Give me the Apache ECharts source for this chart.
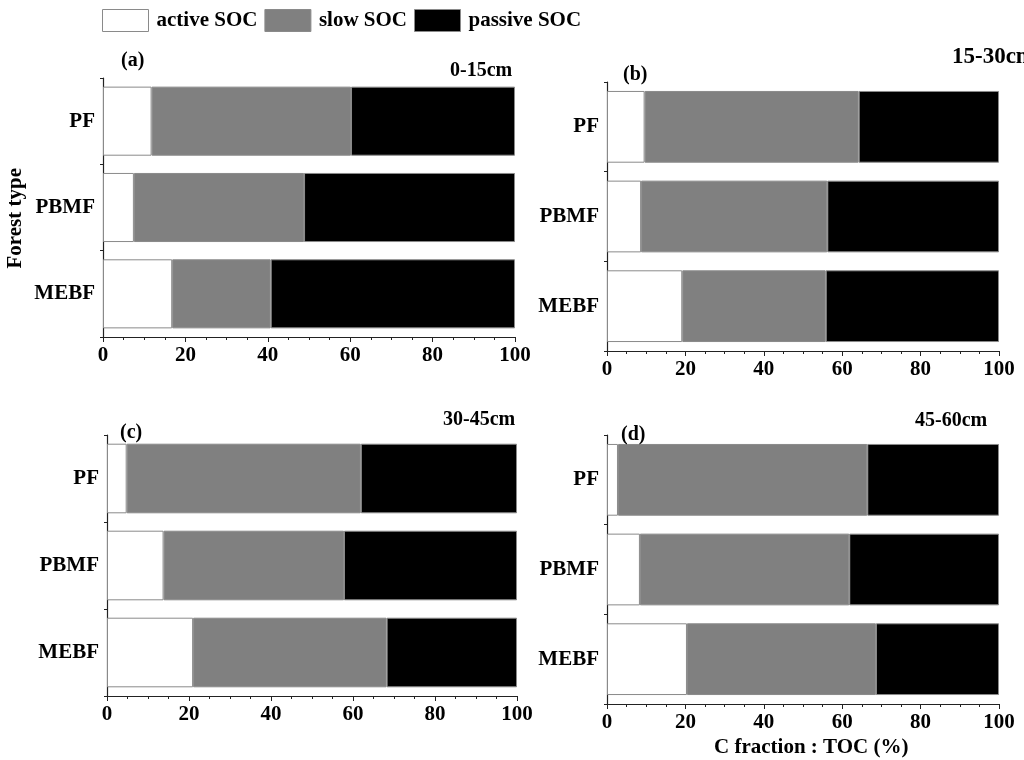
<!DOCTYPE html>
<html>
<head>
<meta charset="utf-8">
<script src="https://cdn.jsdelivr.net/npm/echarts@6/dist/echarts.min.js"></script>
<style>html,body{margin:0;padding:0;background:#fff}#c{width:1024px;height:760px}</style>
</head>
<body>
<div id="c"></div>
<script>
const categories = ['PF', 'PBMF', 'MEBF'];
const seriesNames = ['active SOC', 'slow SOC', 'passive SOC'];
const panelLabels = ['(a)', '(b)', '(c)', '(d)'];
const depthLabels = ['0-15cm', '15-30cm', '30-45cm', '45-60cm'];
const xTicks = [0, 20, 40, 60, 80, 100];
// per panel values [PF, PBMF, MEBF]
const activeA = [11.8, 7.5, 16.8];
const slowA = [48.4, 41.3, 23.9];
const passiveA = [39.8, 51.2, 59.3];
const activeB = [9.6, 8.7, 19.2];
const slowB = [54.6, 47.5, 36.6];
const passiveB = [35.8, 43.8, 44.2];
const activeC = [4.8, 13.8, 21.0];
const slowC = [57.1, 44.0, 47.2];
const passiveC = [38.1, 42.2, 31.8];
const activeD = [2.8, 8.4, 20.4];
const slowD = [63.6, 53.4, 48.2];
const passiveD = [33.6, 38.2, 31.4];

const panels = [[activeA, slowA, passiveA], [activeB, slowB, passiveB], [activeC, slowC, passiveC], [activeD, slowD, passiveD]];
const colors = ['#ffffff', '#808080', '#000000'];
const FONT = 'Liberation Serif';

const grids = [
  {left: 103, top: 78, width: 412, height: 259},
  {left: 607, top: 82, width: 392, height: 269},
  {left: 107, top: 435, width: 410, height: 261},
  {left: 607, top: 435, width: 392, height: 269}
];

const xAxes = grids.map((g, i) => ({
  type: 'value', gridIndex: i, min: xTicks[0], max: xTicks[xTicks.length - 1], interval: xTicks[1] - xTicks[0],
  axisLine: {show: true, lineStyle: {color: '#222', width: 1.2}},
  axisTick: {show: true, length: 5, lineStyle: {color: '#222'}},
  minorTick: {show: true, splitNumber: 4, length: 3, lineStyle: {color: '#222'}},
  splitLine: {show: false},
  axisLabel: {color: '#000', fontFamily: FONT, fontWeight: 'bold', fontSize: 21, margin: 8}
}));

const yAxes = grids.map((g, i) => ({
  type: 'category', gridIndex: i, data: categories, inverse: true,
  axisLine: {show: true, lineStyle: {color: '#222', width: 1.2}},
  axisTick: {show: true, length: 3, lineStyle: {color: '#222'}},
  axisLabel: {color: '#000', fontFamily: FONT, fontWeight: 'bold', fontSize: 21, margin: 8}
}));

const series = [];
panels.forEach((p, i) => {
  p.forEach((vals, k) => {
    series.push({
      type: 'bar', name: seriesNames[k], stack: 'p' + i, xAxisIndex: i, yAxisIndex: i,
      data: vals, barCategoryGap: '20%',
      itemStyle: {color: colors[k], borderColor: '#8a8a8a', borderWidth: 1},
      emphasis: {disabled: true}, animation: false
    });
  });
});

const titleStyle = {color: '#000', fontFamily: FONT, fontWeight: 'bold', fontSize: 20};
const titles = [
  {text: panelLabels[0], left: 116, top: 46, textStyle: titleStyle},
  {text: depthLabels[0], left: 445, top: 56, textStyle: titleStyle},
  {text: panelLabels[1], left: 618, top: 60, textStyle: titleStyle},
  {text: depthLabels[1], left: 947, top: 41, textStyle: Object.assign({}, titleStyle, {fontSize: 23})},
  {text: panelLabels[2], left: 115, top: 418, textStyle: titleStyle},
  {text: depthLabels[2], left: 438, top: 405, textStyle: titleStyle},
  {text: panelLabels[3], left: 616, top: 420, textStyle: titleStyle},
  {text: depthLabels[3], left: 910, top: 406, textStyle: titleStyle}
];

const chart = echarts.init(document.getElementById('c'));
chart.setOption({
  backgroundColor: '#fff',
  animation: false,
  title: titles,
  legend: {
    data: seriesNames, left: 97, top: 4, itemWidth: 46, itemHeight: 22, itemGap: 7,
    icon: 'rect',
    itemStyle: {borderColor: '#8a8a8a', borderWidth: 1},
    textStyle: {color: '#000', fontFamily: FONT, fontWeight: 'bold', fontSize: 21, padding: [0, 0, 0, 3]}
  },
  graphic: [
    {type: 'text', left: 5, top: 168, rotation: Math.PI / 2,
      style: {text: 'Forest type', fill: '#000', font: 'bold 21px "Liberation Serif"'}},
    {type: 'text', left: 714, top: 737,
      style: {text: 'C fraction : TOC (%)', fill: '#000', font: 'bold 21px "Liberation Serif"'}}
  ],
  grid: grids,
  xAxis: xAxes,
  yAxis: yAxes,
  series: series
});
</script>
</body>
</html>
